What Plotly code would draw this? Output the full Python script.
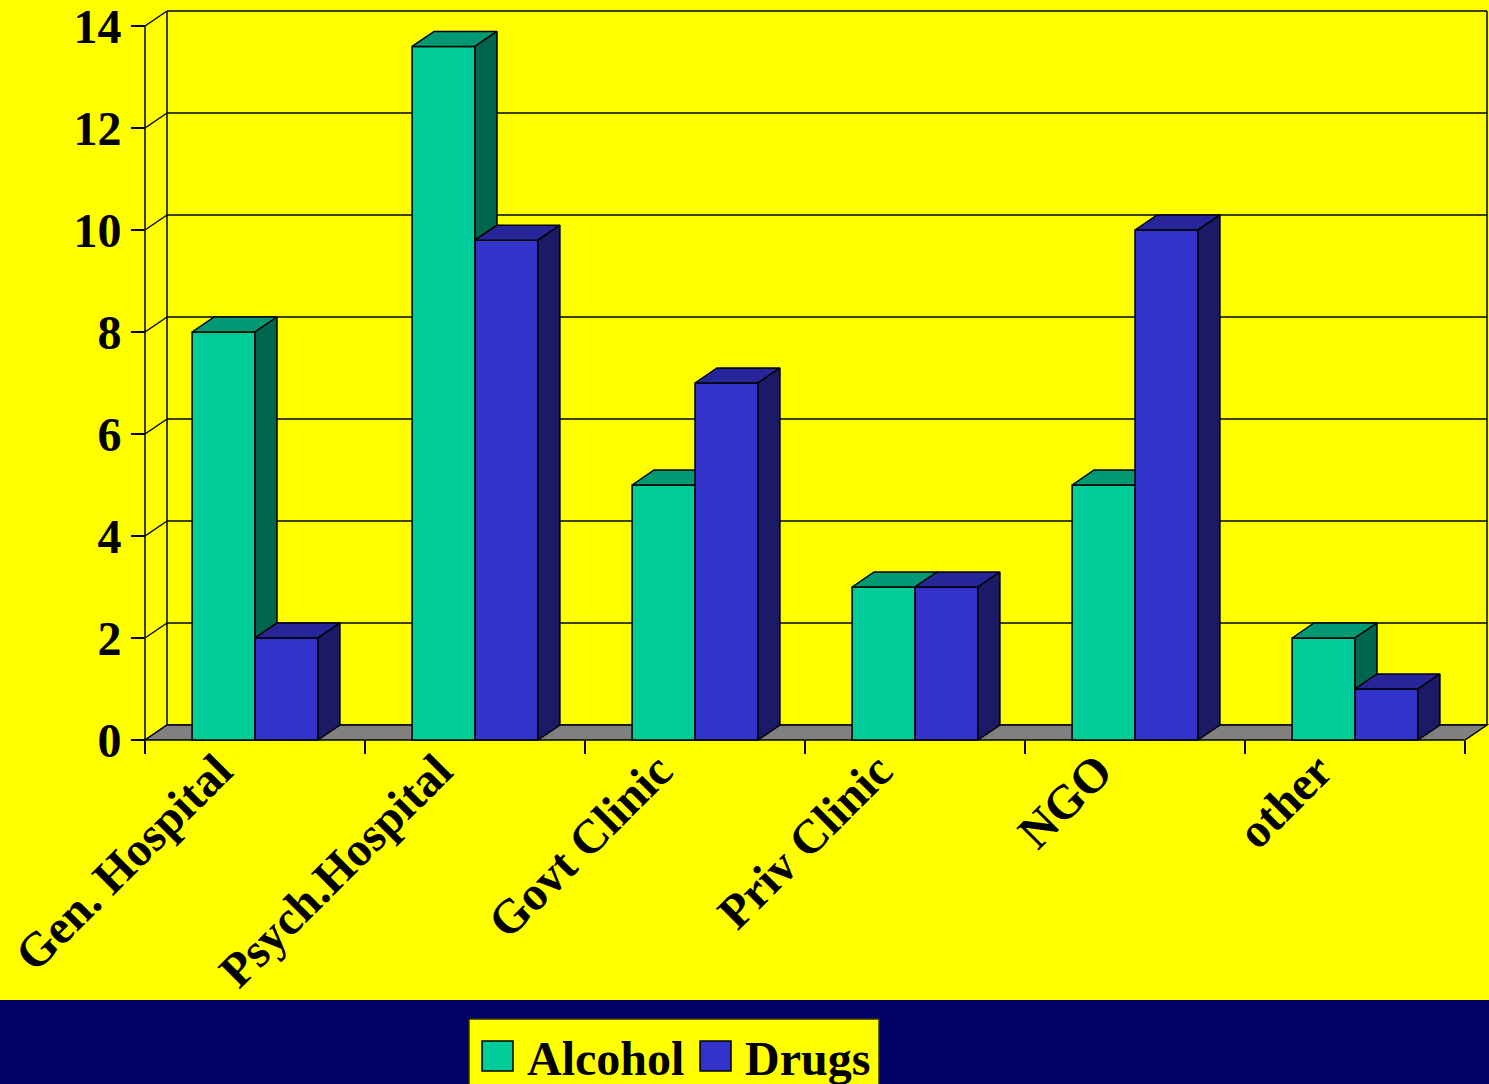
import plotly.graph_objects as go

# --- data -------------------------------------------------------------
categories = ["Gen. Hospital", "Psych.Hospital", "Govt Clinic",
              "Priv Clinic", "NGO", "other"]
alcohol = [8, 13.6, 5, 3, 5, 2]
drugs = [2, 9.8, 7, 3, 10, 1]
y_ticks = [0, 2, 4, 6, 8, 10, 12, 14]

# --- styling ----------------------------------------------------------
YELLOW = "#FFFF00"
NAVY = "#000066"
GREEN_FRONT, GREEN_TOP, GREEN_SIDE = "#00CC99", "#009973", "#00664D"
BLUE_FRONT, BLUE_TOP, BLUE_SIDE = "#3333CC", "#262699", "#1A1A66"
FONT = "Liberation Serif"
LW = 1.5

W, H = 1489, 1084
# plot frame in pixels (front axis / back wall)
FX0, FX1 = 145, 1465          # front x extent
BX1 = 1487                    # back wall right edge
FY0, FY14 = 740, 26           # y=0 and y=14 on the front
PX = (FX1 - FX0) / len(categories)      # pixels per category
PY = (FY0 - FY14) / 14.0                # pixels per y unit
DX = (BX1 - FX1) / PX                   # depth offset in x units
DY = 15 / PY                            # depth offset in y units
BAR_W = 0.286                           # width of one bar (category units)

ML, MR, MT, MB = 141, 0, 8, 341
x_range = [-0.5 - (FX0 - ML) / PX, 5.5 + DX + (W - MR - BX1) / PX]
y_range = [-(H - MB - FY0) / PY, 14 + DY + (FY14 - 15 - MT) / PY]
plot_w = W - ML - MR
plot_h = H - MT - MB


def paper_x(px):
    return (px - ML) / plot_w


def paper_y(py):
    return (H - MB - py) / plot_h


idx = list(range(len(categories)))
fig = go.Figure()

# front faces of the bars
fig.add_trace(go.Bar(x=idx, y=alcohol, width=BAR_W, offset=-BAR_W,
                     name="Alcohol", marker=dict(color=GREEN_FRONT,
                     line=dict(color="black", width=LW))))
fig.add_trace(go.Bar(x=idx, y=drugs, width=BAR_W, offset=0,
                     name="Drugs", marker=dict(color=BLUE_FRONT,
                     line=dict(color="black", width=LW))))


def poly_trace(polys, color):
    xs, ys = [], []
    for p in polys:
        for (px_, py_) in p + [p[0]]:
            xs.append(px_)
            ys.append(py_)
        xs.append(None)
        ys.append(None)
    return go.Scatter(x=xs, y=ys, mode="lines", fill="toself",
                      fillcolor=color, line=dict(color="black", width=LW),
                      hoverinfo="skip", showlegend=False)


a_top, a_side, d_top, d_side = [], [], [], []
for i, a, d in zip(idx, alcohol, drugs):
    xl, xm, xr = i - BAR_W, i, i + BAR_W
    # alcohol top: the part right of xm is hidden when the drugs bar is taller
    if d > a:
        a_top.append([(xl, a), (xm, a), (xm, a + DY), (xl + DX, a + DY)])
    else:
        a_top.append([(xl, a), (xm, a), (xm + DX, a + DY), (xl + DX, a + DY)])
    # alcohol side: only the part above the drugs bar shows
    if a > d:
        a_side.append([(xm, d), (xm + DX, d + DY), (xm + DX, a + DY), (xm, a)])
    d_top.append([(xm, d), (xr, d), (xr + DX, d + DY), (xm + DX, d + DY)])
    d_side.append([(xr, 0), (xr + DX, DY), (xr + DX, d + DY), (xr, d)])

fig.add_trace(poly_trace(a_top, GREEN_TOP))
fig.add_trace(poly_trace(a_side, GREEN_SIDE))
fig.add_trace(poly_trace(d_top, BLUE_TOP))
fig.add_trace(poly_trace(d_side, BLUE_SIDE))

# --- walls, floor and gridlines -------------------------------------------
shapes = []
line = dict(color="black", width=LW)
xb0, xb1 = -0.5 + DX, 5.5 + DX
for k in y_ticks:
    shapes.append(dict(type="line", xref="x", yref="y", x0=xb0, x1=xb1,
                       y0=k + DY, y1=k + DY, line=line, layer="below"))
    shapes.append(dict(type="line", xref="x", yref="y", x0=-0.5, x1=xb0,
                       y0=k, y1=k + DY, line=line, layer="below"))
shapes.append(dict(type="line", xref="x", yref="y", x0=xb0, x1=xb0,
                   y0=DY, y1=14 + DY, line=line, layer="below"))
shapes.append(dict(type="line", xref="x", yref="y", x0=xb1, x1=xb1,
                   y0=DY, y1=14 + DY, line=line, layer="below"))
shapes.append(dict(type="line", xref="x", yref="y", x0=-0.5, x1=-0.5,
                   y0=0, y1=14, line=line, layer="below"))
shapes.append(dict(type="path", xref="x", yref="y",
                   path=f"M -0.5,0 L 5.5,0 L {xb1},{DY} L {xb0},{DY} Z",
                   fillcolor="#808080", line=line, layer="below"))

# bottom band with legend
shapes.append(dict(type="rect", xref="paper", yref="paper",
                   x0=paper_x(0), x1=paper_x(W), y0=paper_y(1000), y1=paper_y(H + 5),
                   fillcolor=NAVY, line=dict(width=0), layer="below"))
shapes.append(dict(type="rect", xref="paper", yref="paper",
                   x0=paper_x(469), x1=paper_x(879), y0=paper_y(1019), y1=paper_y(H + 10),
                   fillcolor=YELLOW, line=dict(color="#333300", width=1.5)))
legend_items = [("Alcohol", GREEN_FRONT, 482, 528), ("Drugs", BLUE_FRONT, 700, 746)]
annotations = []
for name, col, sx, tx in legend_items:
    shapes.append(dict(type="rect", xref="paper", yref="paper",
                       x0=paper_x(sx), x1=paper_x(sx + 31),
                       y0=paper_y(1041), y1=paper_y(1071),
                       fillcolor=col, line=dict(color="black", width=1.5)))
    annotations.append(dict(xref="paper", yref="paper", x=paper_x(tx - 3),
                            y=paper_y(1058), xanchor="left", yanchor="middle",
                            text=f"<b>{name}</b>", showarrow=False,
                            font=dict(family=FONT, size=48, color="black")))

fig.update_layout(
    width=W, height=H,
    margin=dict(l=ML, r=MR, t=MT, b=MB, pad=0),
    paper_bgcolor=YELLOW, plot_bgcolor=YELLOW,
    barmode="overlay", showlegend=False,
    shapes=shapes, annotations=annotations,
    xaxis=dict(range=x_range, tickmode="array", tickvals=idx,
               ticktext=[f"<b>{c}</b>" for c in categories],
               tickangle=-45, ticks="", showgrid=False, zeroline=False,
               showline=False, anchor="free",
               position=(H - MB - FY0) / plot_h,
               ticklabelshift=-37, ticklabelstandoff=-8,
               ticklabeloverflow="allow",
               tickfont=dict(family=FONT, size=48, color="black"),
               minor=dict(tickmode="array",
                          tickvals=[i - 0.5 for i in range(len(categories) + 1)],
                          ticks="outside", ticklen=13, tickwidth=LW,
                          tickcolor="black", showgrid=False),
               fixedrange=True),
    yaxis=dict(range=y_range, tickmode="array", tickvals=y_ticks,
               ticktext=[f"<b>{t}</b>" for t in y_ticks],
               ticks="outside", ticklen=14, tickwidth=LW, tickcolor="black",
               showgrid=False, zeroline=False, showline=False,
               anchor="free", position=(FX0 - ML) / plot_w,
               ticklabeloverflow="allow",
               tickfont=dict(family=FONT, size=48, color="black"),
               fixedrange=True),
)

fig.write_html("out.html")
